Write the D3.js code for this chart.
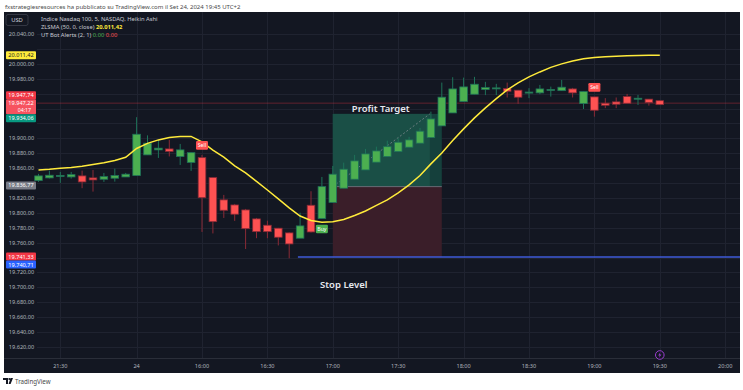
<!doctype html>
<html>
	<head>
	<meta charset="utf-8">
<style>
body {
 margin: 0;
 background-color: white;
 font-family: "Noto Sans", sans-serif;
}
svg { display: block; }
</style>
<script src="https://cdnjs.cloudflare.com/ajax/libs/d3/7.8.5/d3.min.js"></script>
</head>
<body>
	<div id="chart"></div>

<script>
	// Heikin Ashi bars, 5 min, one value per bar
	var opens  = [19843.3,19846.9,19848.9,19848.2,19849.6,19846.9,19845.1,19846.5,19848.2,19850.0,
	              19877.8,19884.5,19885.8,19875.5,19867.7,19874.1,19847.3,19817.4,19810.6,19803.9,
	              19791.9,19783.4,19779.4,19773.1,19766.0,19810.2,19792.5,19814.0,19833.1,19845.1,
	              19857.6,19868.0,19875.5,19882.2,19888.1,19893.5,19901.0,19916.7,19934.1,19949.3,
	              19959.2,19965.4,19966.4,19966.7,19964.6,19960.7,19961.0,19964.3,19964.0,19966.3,
	              19946.6,19955.6,19947.1,19948.9,19956.0,19952.5,19952.6,19950.5];
	var closes = [19849.6,19850.5,19850.2,19851.3,19841.5,19844.2,19848.6,19850.0,19851.9,19905.5,
	              19893.5,19886.8,19882.5,19884.5,19880.8,19820.4,19788.2,19803.5,19798.2,19778.8,
	              19774.8,19774.8,19767.3,19758.3,19782.5,19774.4,19835.2,19851.9,19858.6,19869.7,
	              19879.1,19883.1,19888.8,19894.8,19897.9,19909.6,19926.0,19955.2,19966.3,19969.0,
	              19972.6,19968.1,19967.7,19963.2,19955.2,19962.1,19966.3,19965.6,19968.6,19961.0,
	              19962.7,19937.7,19944.4,19945.8,19947.1,19953.8,19948.1,19945.2];
	var highs  = [19852.3,19856.7,19854.9,19854.9,19856.7,19857.6,19853.6,19859.4,19853.6,19928.4,
	              19904.0,19897.9,19897.9,19892.5,19880.8,19877.8,19847.3,19824.1,19812.0,19805.3,
	              19793.2,19789.5,19779.8,19773.8,19800.2,19829.0,19848.2,19863.0,19867.4,19877.8,
	              19885.8,19888.8,19896.9,19900.1,19902.0,19914.0,19935.8,19974.8,19982.0,19981.5,
	              19982.5,19975.8,19973.1,19974.8,19965.0,19967.3,19971.7,19969.4,19978.4,19967.7,
	              19962.7,19955.6,19953.9,19954.8,19959.6,19958.3,19952.6,19950.5];
	var lows   = [19841.5,19846.2,19840.2,19846.0,19833.1,19828.5,19841.5,19841.9,19848.2,19850.0,
	              19877.8,19873.7,19875.7,19864.3,19856.3,19774.4,19772.4,19793.2,19789.2,19751.5,
	              19766.0,19766.0,19756.3,19739.1,19766.0,19773.7,19792.5,19814.0,19833.1,19845.1,
	              19857.6,19868.0,19875.5,19882.2,19888.1,19893.5,19901.0,19916.7,19934.1,19949.3,
	              19959.2,19958.0,19958.0,19954.8,19946.2,19953.9,19959.2,19956.0,19964.0,19954.8,
	              19939.3,19929.1,19940.5,19940.5,19947.1,19944.8,19943.9,19945.2];

	// ZLSMA (50, 0, close)
	var zlsma  = [19857.6,19858.5,19859.9,19860.9,19862.5,19864.9,19867.2,19870.3,19874.6,19886.4,
	              19893.2,19897.9,19901.2,19902.6,19902.6,19895.2,19884.1,19874.7,19863.0,19853.6,
	              19842.2,19830.7,19818.7,19806.6,19795.8,19789.8,19787.4,19788.0,19791.1,19796.5,
	              19802.5,19810.0,19817.4,19826.7,19837.5,19850.2,19865.7,19880.4,19897.2,19912.7,
	              19927.4,19940.8,19953.3,19965.0,19974.4,19982.4,19989.1,19995.2,19999.9,20003.9,
	              20006.9,20008.6,20009.6,20010.2,20010.9,20011.3,20011.4,20011.42];

	// UT Bot signals (bar index)
	var buyBars  = [26];
	var sellBars = [15, 51];

	// long position tool
	var entryPrice = 19835.2, targetPrice = 19932.8, stopPrice = 19740.71;
	var tradeFrom = 27, tradeTo = 37, targetHit = 35.9, stopLineFrom = 23.8;

	// axes
	var priceTicks = d3.range(19620, 20041, 20);
	var timeBars   = [2, 9, 15, 21, 27, 33, 39, 45, 51, 57, 63];
	var timeLabels = ["21:30","24","16:00","16:30","17:00","17:30","18:00","18:30","19:00","19:30","20:00"];

	// price scale tags
	var tagValues = [19947.22, 19741.33, 20011.42, 19947.74, 19934.06, 19836.77, 19740.71];
	var tagKinds  = ["last", "red", "yellow", "red", "green", "grey", "blue"];
	var countdown = "04:17";

	var tagStyle = {
		last:   {bg: "#f7525f", fg: "#ffffff"},
		red:    {bg: "#f23645", fg: "#ffffff"},
		yellow: {bg: "#ffeb3b", fg: "#131722"},
		green:  {bg: "#089981", fg: "#ffffff"},
		grey:   {bg: "#787b86", fg: "#ffffff"},
		blue:   {bg: "#2962ff", fg: "#ffffff"}
	};

	var width = 743;
	var height = 390;
	var panel = {left: 4, top: 12, right: 740, bottom: 373};
	var plotBottom = 358;

	var it = d3.formatLocale({decimal: ",", thousands: ".", grouping: [3], currency: ["", ""]});
	var fmt = it.format(",.2f");

	var x = d3.scaleLinear().domain([0, 63]).range([38.5, 725.2]);
	var y = d3.scaleLinear().domain([19620, 20040]).range([347, 34]);

	var svg = d3.select("#chart")
				.append("svg")
				.attr("width", width)
				.attr("height", height);

	// header
	svg.append("text")
		.attr("x", 5).attr("y", 8.5)
		.attr("font-size", 6).attr("fill", "#4a4a4a")
		.text("fxstrategiesresources ha pubblicato su TradingView.com il Set 24, 2024 19:45 UTC+2");

	svg.append("rect")
		.attr("x", panel.left).attr("y", panel.top)
		.attr("width", panel.right - panel.left).attr("height", panel.bottom - panel.top)
		.attr("fill", "#131722");

	var grid = svg.append("g").attr("stroke", "#1f2330").attr("stroke-width", 1);
	grid.selectAll(".h").data(priceTicks).enter().append("line")
		.attr("x1", 37).attr("x2", panel.right)
		.attr("y1", function(d) { return Math.round(y(d)) + 0.5; })
		.attr("y2", function(d) { return Math.round(y(d)) + 0.5; });
	grid.selectAll(".v").data(timeBars).enter().append("line")
		.attr("y1", panel.top).attr("y2", plotBottom)
		.attr("x1", function(d) { return Math.round(x(d)) + 0.5; })
		.attr("x2", function(d) { return Math.round(x(d)) + 0.5; });

	// position tool boxes
	var pos = svg.append("g");
	pos.append("rect")
		.attr("x", x(tradeFrom)).attr("width", x(tradeTo) - x(tradeFrom))
		.attr("y", y(targetPrice)).attr("height", y(entryPrice) - y(targetPrice))
		.attr("fill", "#15403c");
	pos.append("rect")
		.attr("x", x(tradeFrom)).attr("width", x(targetHit) - x(tradeFrom))
		.attr("y", y(targetPrice)).attr("height", y(entryPrice) - y(targetPrice))
		.attr("fill", "#1a4f46");
	pos.append("rect")
		.attr("x", x(tradeFrom)).attr("width", x(tradeTo) - x(tradeFrom))
		.attr("y", y(entryPrice)).attr("height", y(stopPrice) - y(entryPrice))
		.attr("fill", "#3a1e29");
	pos.append("line")
		.attr("x1", x(tradeFrom)).attr("x2", x(tradeTo))
		.attr("y1", y(entryPrice)).attr("y2", y(entryPrice))
		.attr("stroke", "#787b86").attr("stroke-width", 0.8);
	pos.append("line")
		.attr("x1", x(tradeFrom)).attr("y1", y(entryPrice))
		.attr("x2", x(targetHit)).attr("y2", y(targetPrice))
		.attr("stroke", "#9598a1").attr("stroke-width", 0.8)
		.attr("stroke-dasharray", "2,2").attr("opacity", 0.8);

	// last price line
	svg.append("line")
		.attr("x1", 37).attr("x2", panel.right)
		.attr("y1", y(tagValues[0])).attr("y2", y(tagValues[0]))
		.attr("stroke", "#f23645").attr("stroke-opacity", 0.35).attr("stroke-width", 1);

	// stop level line
	svg.append("line")
		.attr("x1", x(stopLineFrom)).attr("x2", panel.right)
		.attr("y1", y(stopPrice)).attr("y2", y(stopPrice))
		.attr("stroke", "#3f5bd8").attr("stroke-width", 1.5);

	// candles
	var bars = d3.range(opens.length);
	var bw = 7.6;
	var cg = svg.append("g");
	var isUp = function(i) { return closes[i] >= opens[i]; };

	cg.selectAll(".wick").data(bars).enter().append("line")
		.attr("x1", function(i) { return x(i); })
		.attr("x2", function(i) { return x(i); })
		.attr("y1", function(i) { return y(highs[i]); })
		.attr("y2", function(i) { return y(lows[i]); })
		.attr("stroke", function(i) { return isUp(i) ? "#1e7259" : "#8a2a36"; })
		.attr("stroke-width", 1);

	cg.selectAll(".body").data(bars).enter().append("rect")
		.attr("x", function(i) { return x(i) - bw / 2; })
		.attr("width", bw)
		.attr("y", function(i) { return y(Math.max(opens[i], closes[i])); })
		.attr("height", function(i) { return Math.max(1, Math.abs(y(opens[i]) - y(closes[i]))); })
		.attr("fill", function(i) { return isUp(i) ? "#4caf50" : "#ff5252"; })
		.attr("stroke", function(i) { return isUp(i) ? "#1e7259" : "#8a2a36"; })
		.attr("stroke-width", 0.8);

	// ZLSMA line
	svg.append("path")
		.datum(zlsma)
		.attr("fill", "none")
		.attr("stroke", "#ffeb3b")
		.attr("stroke-width", 1.5)
		.attr("d", d3.line().x(function(d, i) { return x(i); }).y(function(d) { return y(d); }));

	// UT Bot labels
	function signal(bar, text, color, above) {
		var cy = above ? y(highs[bar]) - 9.5 : y(lows[bar]) + 10.5;
		var g = svg.append("g");
		g.append("rect")
			.attr("x", x(bar) - 6).attr("y", cy - 4.3)
			.attr("width", 12).attr("height", 8.6).attr("rx", 1.2)
			.attr("fill", color);
		g.append("text")
			.attr("x", x(bar)).attr("y", cy + 1.8)
			.attr("text-anchor", "middle").attr("font-size", 5.2)
			.attr("fill", "white").text(text);
	}
	sellBars.forEach(function(b) { signal(b, "Sell", "#ff5252", true); });
	buyBars.forEach(function(b) { signal(b, "Buy", "#4caf50", false); });

	// drawing labels
	svg.append("text")
		.attr("x", x(31.4)).attr("y", y(targetPrice) - 2)
		.attr("text-anchor", "middle").attr("font-size", 9.5).attr("font-weight", 600)
		.attr("fill", "#e6e8ee").text("Profit Target");
	svg.append("text")
		.attr("x", x(28)).attr("y", y(19703) + 3)
		.attr("text-anchor", "middle").attr("font-size", 9.5).attr("font-weight", 600)
		.attr("fill", "#e6e8ee").text("Stop Level");

	// tags, placed by priority, pushed away from ones already placed
	var placed = [];
	tagValues.forEach(function(v, k) {
		var h = tagKinds[k] === "last" ? 15 : 8;
		var top = y(v) - 4;
		placed.forEach(function(p) {
			if (top < p.top + p.h && top + h > p.top) {
				top = v > p.v ? p.top - h : p.top + p.h;
			}
		});
		placed.push({v: v, top: top, h: h, kind: tagKinds[k]});
	});

	// price scale labels, hidden where a tag covers them
	var visibleTicks = priceTicks.filter(function(d) {
		var ty = y(d);
		return !placed.some(function(p) { return ty + 2.5 > p.top && ty - 2.5 < p.top + p.h; });
	});
	svg.append("g").selectAll("text").data(visibleTicks).enter().append("text")
		.attr("x", 21.5).attr("y", function(d) { return y(d) + 2; })
		.attr("text-anchor", "middle").attr("font-size", 5.6)
		.attr("fill", "#b2b5be")
		.text(function(d) { return fmt(d); });

	var tg = svg.append("g");
	placed.forEach(function(p) {
		var s = tagStyle[p.kind];
		tg.append("rect")
			.attr("x", 6).attr("y", p.top).attr("width", 30).attr("height", p.h)
			.attr("rx", 1).attr("fill", s.bg);
		tg.append("text")
			.attr("x", 21).attr("y", p.top + 6)
			.attr("text-anchor", "middle").attr("font-size", 5.6)
			.attr("fill", s.fg).text(fmt(p.v));
		if (p.kind === "last") {
			tg.append("text")
				.attr("x", 31).attr("y", p.top + 13)
				.attr("text-anchor", "end").attr("font-size", 5.2)
				.attr("fill", s.fg).text(countdown);
		}
	});

	// time axis
	svg.append("line")
		.attr("x1", panel.left).attr("x2", panel.right)
		.attr("y1", plotBottom + 0.5).attr("y2", plotBottom + 0.5)
		.attr("stroke", "#2a2e39");
	svg.append("g").selectAll("text").data(timeBars).enter().append("text")
		.attr("x", function(d) { return x(d); })
		.attr("y", 368)
		.attr("text-anchor", "middle").attr("font-size", 5.6)
		.attr("fill", "#b2b5be")
		.text(function(d, i) { return timeLabels[i]; });

	// event marker
	var ev = svg.append("g").attr("transform", "translate(" + x(57) + ",355)");
	ev.append("circle").attr("r", 4.3).attr("fill", "#131722")
		.attr("stroke", "#9c3fd1").attr("stroke-width", 1);
	ev.append("path").attr("d", "M0.8,-3 L-1.6,0.4 L0,0.4 L-0.8,3 L1.6,-0.6 L0,-0.6 Z")
		.attr("fill", "#9c3fd1");

	// legend
	svg.append("rect")
		.attr("x", 6).attr("y", 14.5).attr("width", 22).attr("height", 11).attr("rx", 2)
		.attr("fill", "#131722").attr("stroke", "#434651").attr("stroke-width", 0.7);
	svg.append("text")
		.attr("x", 17).attr("y", 22).attr("text-anchor", "middle")
		.attr("font-size", 5.8).attr("fill", "#d1d4dc").text("USD");

	var lg = svg.append("g").attr("font-size", 5.8).attr("fill", "#c8cad2");
	lg.append("text").attr("x", 41).attr("y", 21).text("Indice Nasdaq 100, 5, NASDAQ, Heikin Ashi");
	var l2 = lg.append("text").attr("x", 41).attr("y", 29);
	l2.append("tspan").text("ZLSMA (50, 0, close)  ");
	l2.append("tspan").attr("fill", "#ffeb3b").attr("font-weight", 700).text(fmt(zlsma[zlsma.length - 1]));
	var l3 = lg.append("text").attr("x", 41).attr("y", 37);
	l3.append("tspan").text("UT Bot Alerts (2, 1)  ");
	l3.append("tspan").attr("fill", "#4caf50").text("0.00");
	l3.append("tspan").attr("fill", "#ff5252").text("  0.00");

	// footer logo
	svg.append("path")
		.attr("d", "M3,378 H8 V384 H6 V380 H3 Z M10.5,378 L13,378 L10.6,384 L8.6,384 Z")
		.attr("fill", "#131722");
	svg.append("circle").attr("cx", 9.3).attr("cy", 379).attr("r", 1).attr("fill", "#131722");
	svg.append("text")
		.attr("x", 15).attr("y", 383.5)
		.attr("font-size", 6.2).attr("fill", "#4a4a4a")
		.text("TradingView");
</script>

</body>
</html>
